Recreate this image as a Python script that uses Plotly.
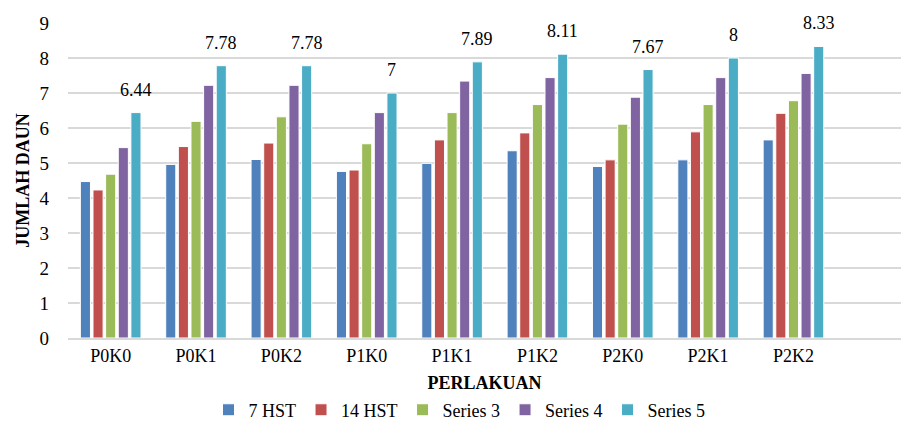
import plotly.graph_objects as go

categories = ["P0K0", "P0K1", "P0K2", "P1K0", "P1K1", "P1K2", "P2K0", "P2K1", "P2K2"]
series_names = ["7 HST", "14 HST", "Series 3", "Series 4", "Series 5"]
s1 = [4.47, 4.96, 5.10, 4.76, 4.99, 5.35, 4.90, 5.09, 5.66]
s2 = [4.23, 5.47, 5.57, 4.80, 5.66, 5.86, 5.09, 5.89, 6.42]
s3 = [4.68, 6.19, 6.32, 5.55, 6.44, 6.67, 6.11, 6.67, 6.78]
s4 = [5.44, 7.22, 7.22, 6.44, 7.34, 7.44, 6.88, 7.44, 7.56]
s5 = [6.44, 7.78, 7.78, 7.00, 7.89, 8.11, 7.67, 8.00, 8.33]
y_ticks = [0, 1, 2, 3, 4, 5, 6, 7, 8, 9]

colors = ["#4F81BD", "#C0504D", "#9BBB59", "#8064A2", "#4BACC6"]
FF = "Liberation Serif"

W, H = 901, 423
ML, MR, MT, MB = 68, 0, 23, 85
X_RANGE = [-0.5, 9.26]
BARGAP = 0.26

fig = go.Figure()
for name, vals, col in zip(series_names, [s1, s2, s3, s4, s5], colors):
    fig.add_trace(go.Bar(
        x=categories, y=vals, name=name,
        marker=dict(color=col, line=dict(color="white", width=1)),
    ))

# data labels for Series 5, positioned over the last bar of each group
px_per_cat = (W - ML - MR) / (X_RANGE[1] - X_RANGE[0])
slot = px_per_cat * (1 - BARGAP) / len(series_names)
last_offset = slot * (len(series_names) - 1) / 2
for c, v in zip(categories, s5):
    fig.add_annotation(
        x=c, y=v, xref="x", yref="y", text=f"{v:g}", showarrow=False,
        xshift=last_offset, yshift=23, yanchor="middle",
        font=dict(family=FF, size=18, color="#000000"),
    )

fig.update_layout(
    width=W, height=H,
    barmode="group", bargap=BARGAP, bargroupgap=0.2,
    paper_bgcolor="white", plot_bgcolor="white",
    margin=dict(l=ML, r=MR, t=MT, b=MB, autoexpand=False),
    font=dict(family=FF, size=18, color="#000000"),
    showlegend=True,
    legend=dict(orientation="h", x=0.47, xanchor="center", y=-0.17, yanchor="top",
                font=dict(family=FF, size=18, color="#000000"),
                itemwidth=30, tracegroupgap=0, traceorder="normal"),
)
fig.update_xaxes(
    range=X_RANGE, showgrid=False, showline=True, linecolor="#D9D9D9", linewidth=2,
    ticks="", automargin=False, tickfont=dict(family=FF, size=18, color="#000000"),
    title=dict(text="<b>PERLAKUAN</b>", font=dict(family=FF, size=18, color="#000000"), standoff=12),
)
fig.update_yaxes(
    range=[0, 9], tickvals=y_ticks, showgrid=True, gridcolor="#D9D9D9", gridwidth=2,
    zeroline=False, showline=False, ticks="", ticklabelstandoff=18, automargin=False,
    tickfont=dict(family=FF, size=19, color="#000000"),
    title=dict(text="<b>JUMLAH DAUN</b>", font=dict(family=FF, size=18, color="#000000"), standoff=5),
)

fig.write_html(
    "out.html",
    config={"displayModeBar": False},
    post_script="document.body.style.margin='0';document.body.style.overflow='hidden';",
)
